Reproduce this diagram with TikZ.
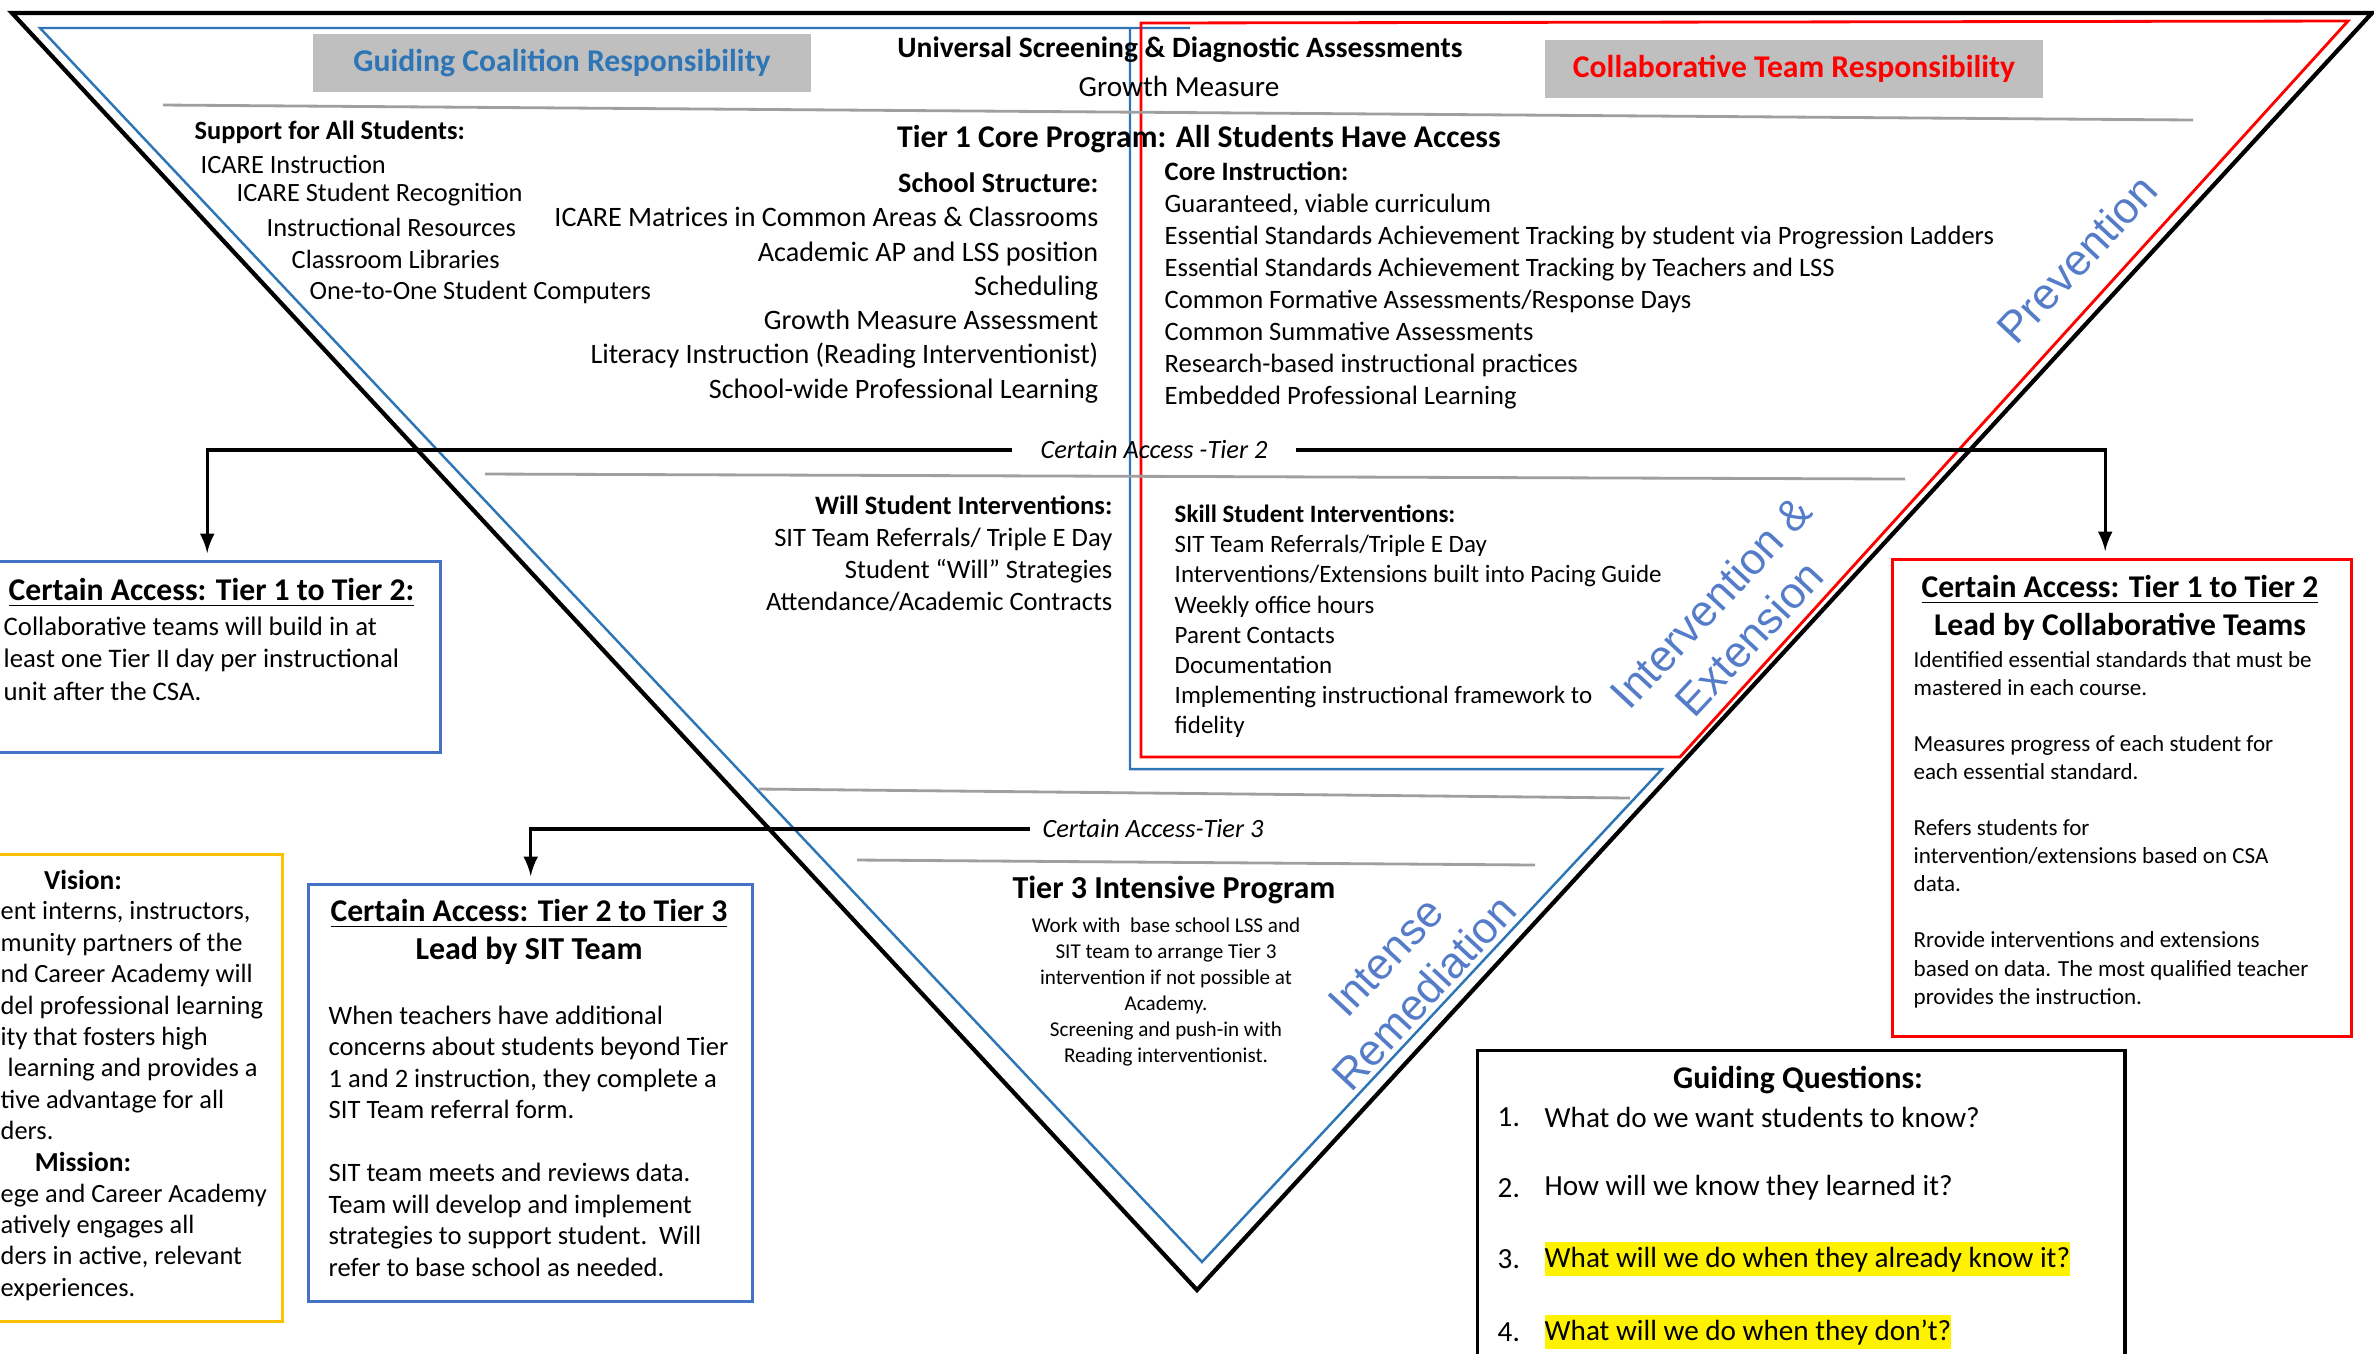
\documentclass[tikz,border=0pt]{standalone}
\usepackage{fontspec}
\setmainfont{Carlito}
\newfontfamily\wmfont{Liberation Sans}
\usetikzlibrary{arrows}

\definecolor{lineblue}{RGB}{46,117,182}
\definecolor{boxblue}{RGB}{68,114,196}
\definecolor{purered}{RGB}{255,0,0}
\definecolor{gold}{RGB}{255,192,0}
\definecolor{panelgray}{RGB}{191,191,191}
\definecolor{wmblue}{RGB}{84,124,200}

\newcommand{\sz}[2]{\fontsize{#1}{#2}\selectfont}

\begin{document}
\begin{tikzpicture}[x=0.01cm,y=-0.01cm,
    txt/.style={inner sep=0pt},
    blueline/.style={draw=lineblue,line width=0.7pt},
    redline/.style={draw=purered,line width=0.8pt},
    rule/.style={draw=gray!75,line width=0.8pt},
    conn/.style={line width=0.9pt,-latex,shorten >=2pt},
    panel/.style={fill=panelgray,minimum width=4.97cm,minimum height=0.58cm,font=\bfseries\sz{9}{11}},
    framebox/.style={line width=0.9pt,anchor=north west,inner sep=0pt},
    wm/.style={text=wmblue,font=\wmfont\sz{12.5}{15},rotate=47,align=center}]
  \useasboundingbox (0,0) rectangle (2374,1353);

  % pyramid
  \draw[line width=1.2pt] (12,13) -- (2372,13) -- (1197,1290) -- cycle;
  \draw[blueline] (1190,28) -- (40,28) -- (1202,1262) -- (1662,769) -- (1130,769) -- (1130,28);
  \draw[redline] (1141,757) -- (1141,23) -- (2348,21) -- (1680,757) -- cycle;

  % tier rules
  \draw[rule] (163,105) -- (2193,120);
  \draw[rule] (485,474) -- (1905,479);
  \draw[rule] (759,789) -- (1630,798);
  \draw[rule] (857,860) -- (1535,865);

  % responsibility panels
  \node[panel,text=lineblue] (gcr) at (562,63) {Guiding Coalition Responsibility};
  \node[panel,text=purered] (ctr) at (1794,69) {Collaborative Team Responsibility};

  % top of tier 1
  \node[txt,font=\bfseries\sz{8.4}{10}] (usda) at (1180,50) {Universal Screening \& Diagnostic Assessments};
  \node[txt,font=\sz{8.3}{10}] (growth) at (1179,86) {Growth Measure};
  \node[txt,font=\bfseries\sz{9}{11}] (tier1) at (1199,139) {Tier 1 Core Program: All Students Have Access};

  \node[txt,font=\bfseries\sz{7.5}{9.1},anchor=west] (support) at (194,132) {Support for All Students:};
  \node[txt,font=\sz{7.5}{9.1},anchor=west] (sup1) at (200,164) {ICARE Instruction};
  \node[txt,font=\sz{7.5}{9.1},anchor=west] (sup2) at (236,195) {ICARE Student Recognition};
  \node[txt,font=\sz{7.5}{9.1},anchor=west] (sup3) at (266,227) {Instructional Resources};
  \node[txt,font=\sz{7.5}{9.1},anchor=west] (sup4) at (291,259) {Classroom Libraries};
  \node[txt,font=\sz{7.5}{9.1},anchor=west] (sup5) at (309,292) {One-to-One Student Computers};

  \node[txt,font=\sz{8}{9.75},align=right,anchor=north east] (school) at (1099,172)
    {\textbf{School Structure:}\\ICARE Matrices in Common Areas \& Classrooms\\Academic AP and LSS position\\Scheduling\\Growth Measure Assessment\\Literacy Instruction (Reading Interventionist)\\School-wide Professional Learning};

  \node[txt,font=\sz{7.55}{9.1},align=left,anchor=north west] (core) at (1164,161)
    {\textbf{Core Instruction:}\\Guaranteed, viable curriculum\\Essential Standards Achievement Tracking by student via Progression Ladders\\Essential Standards Achievement Tracking by Teachers and LSS\\Common Formative Assessments/Response Days\\Common Summative Assessments\\Research-based instructional practices\\Embedded Professional Learning};

  \node[wm] (prev) at (2077,259) {Prevention};

  % tier 2
  \node[txt,font=\itshape\sz{7.5}{9},inner xsep=8pt] (ca2) at (1154,450) {Certain Access -Tier 2};

  \node[txt,font=\sz{7.55}{9.1},align=right,anchor=north east] (will) at (1113,495)
    {\textbf{Will Student Interventions:}\\SIT Team Referrals/ Triple E Day\\Student “Will” Strategies\\Attendance/Academic Contracts};

  \node[txt,font=\sz{7.1}{8.6},align=left,anchor=north west] (skill) at (1174,504)
    {\textbf{Skill Student Interventions:}\\SIT Team Referrals/Triple E Day\\Interventions/Extensions built into Pacing Guide\\Weekly office hours\\Parent Contacts\\Documentation\\Implementing instructional framework to\\fidelity};

  \node[wm] (intext) at (1730,620) {Intervention \&\\Extension};

  % tier 3
  \node[txt,font=\itshape\sz{7.5}{9},inner xsep=3.5pt] (ca3) at (1153,829) {Certain Access-Tier 3};
  \node[txt,font=\bfseries\sz{9.1}{11}] (tier3) at (1174,890) {Tier 3 Intensive Program};
  \node[txt,font=\sz{6}{7.4},align=center,anchor=north] (t3text) at (1166,917)
    {Work with\ \ base school LSS and\\SIT team to arrange Tier 3\\intervention if not possible at\\Academy.\\Screening and push-in with\\Reading interventionist.};
  \node[wm] (intrem) at (1405,975) {Intense\\Remediation};

  % side boxes
  \node[framebox,draw=boxblue,minimum width=4.67cm,minimum height=1.91cm] (lbox) at (-28,560) {};
  \node[txt,font=\bfseries\sz{9}{10.5},anchor=west] (ltitle) at (8,593) {\underline{Certain Access: Tier 1 to Tier 2:}};
  \node[txt,font=\sz{7.6}{9.25},align=left,anchor=north west] (lbody) at (3,616)
    {Collaborative teams will build in at\\least one Tier II day per instructional\\unit after the CSA.};

  \node[framebox,draw=purered,minimum width=4.59cm,minimum height=4.77cm] (rbox) at (1891,558) {};
  \node[txt,font=\bfseries\sz{9}{10.5}] (rtitle) at (2120,590) {\underline{Certain Access: Tier 1 to Tier 2}};
  \node[txt,font=\bfseries\sz{9}{10.5}] (rlead) at (2120,627) {Lead by Collaborative Teams};
  \node[txt,font=\sz{6.55}{7.97},align=left,anchor=north west] (rbody) at (1913,651)
    {Identified essential standards that must be\\mastered in each course.\\[7.97pt]Measures progress of each student for\\each essential standard.\\[7.97pt]Refers students for\\intervention/extensions based on CSA\\data.\\[7.97pt]Rrovide interventions and extensions\\based on data. The most qualified teacher\\provides the instruction.};

  \node[framebox,draw=gold,minimum width=3.09cm,minimum height=4.67cm] (vbox) at (-28,853) {};
  \node[txt,font=\bfseries\sz{7.8}{9.5}] (vision) at (83,880) {Vision:};
  \node[txt,font=\sz{7.5}{8.93},align=left,anchor=north west] (vbody) at (0,901)
    {ent interns, instructors,\\munity partners of the\\nd Career Academy will\\del professional learning\\ity that fosters high\\\hspace*{2pt}learning and provides a\\tive advantage for all\\ders.};
  \node[txt,font=\bfseries\sz{7.8}{9.5}] (mission) at (83,1162) {Mission:};
  \node[txt,font=\sz{7.5}{8.93},align=left,anchor=north west] (mbody) at (0,1183)
    {ege and Career Academy\\atively engages all\\ders in active, relevant\\experiences.};

  \node[framebox,draw=boxblue,minimum width=4.44cm,minimum height=4.17cm] (mbox) at (307,883) {};
  \node[txt,font=\bfseries\sz{9}{10.5}] (mtitle) at (529,914) {\underline{Certain Access: Tier 2 to Tier 3}};
  \node[txt,font=\bfseries\sz{9.1}{10.5}] (mlead) at (529,951) {Lead by SIT Team};
  \node[txt,font=\sz{7.55}{8.96},align=left,anchor=north west] (mbody2) at (328,1005)
    {When teachers have additional\\concerns about students beyond Tier\\1 and 2 instruction, they complete a\\SIT Team referral form.\\[8.96pt]SIT team meets and reviews data.\\Team will develop and implement\\strategies to support student.\ \ Will\\refer to base school as needed.};

  \node[framebox,draw=black,minimum width=6.47cm,minimum height=3.5cm] (gqbox) at (1476,1049) {};
  \node[txt,font=\bfseries\sz{9}{11}] (gq) at (1798,1080) {Guiding Questions:};
  \node[txt,font=\sz{8.3}{10},anchor=west] (n1) at (1497,1117) {1.};
  \node[txt,font=\sz{8.3}{10},anchor=west] (q1) at (1544,1117) {What do we want students to know?};
  \node[txt,font=\sz{8.3}{10},anchor=west] (n2) at (1497,1188) {2.};
  \node[txt,font=\sz{8.3}{10},anchor=west] (q2) at (1544,1188) {How will we know they learned it?};
  \node[txt,font=\sz{8.3}{10},anchor=west] (n3) at (1497,1259) {3.};
  \node[txt,font=\sz{8.3}{10},anchor=west,fill=yellow,text height=7pt,text depth=2.4pt] (q3) at (1544,1259) {What will we do when they already know it?};
  \node[txt,font=\sz{8.3}{10},anchor=west] (n4) at (1497,1332) {4.};
  \node[txt,font=\sz{8.3}{10},anchor=west,fill=yellow,text height=7pt,text depth=2.4pt] (q4) at (1544,1332) {What will we do when they don't?};

  % certain access arrows
  \draw[conn] (ca2.west) -| (lbox.north);
  \draw[conn] (ca2.east) -| ([xshift=-0.17cm]rbox.north);
  \draw[conn] (ca3.west) -| (mbox.north);
\end{tikzpicture}
\end{document}
